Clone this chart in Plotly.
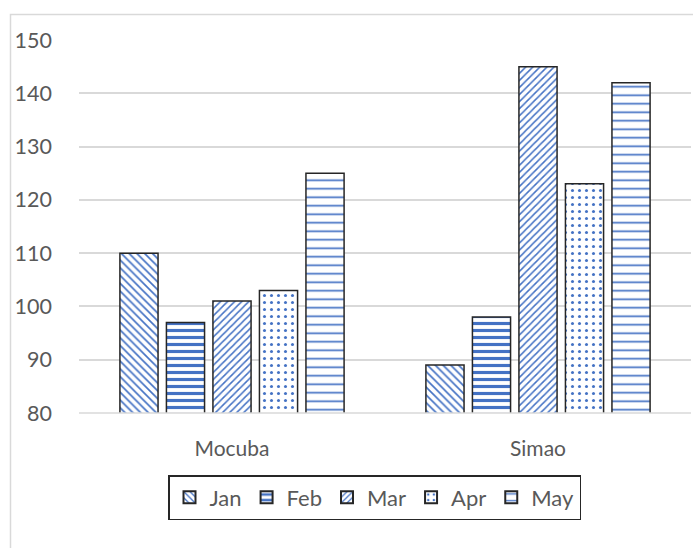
import plotly.graph_objects as go

categories = ["Mocuba", "Simao"]
months = ["Jan", "Feb", "Mar", "Apr", "May"]
values = {
    "Jan": [110, 89],
    "Feb": [97, 98],
    "Mar": [101, 145],
    "Apr": [103, 123],
    "May": [125, 142],
}
y_ticks = [80, 90, 100, 110, 120, 130, 140, 150]

BLUE = "#4472C4"
patterns = {
    "Jan": dict(shape="\\", size=5.5, solidity=0.3),
    "Feb": dict(shape="-", size=7, solidity=0.45),
    "Mar": dict(shape="/", size=5, solidity=0.3),
    "Apr": dict(shape=".", size=7, solidity=0.15),
    "May": dict(shape="-", size=8.5, solidity=0.2),
}

FONT = "Lato"
GRAY = "#595959"

fig = go.Figure()
for m in months:
    p = patterns[m]
    fig.add_trace(go.Bar(
        name=m, x=categories, y=values[m],
        marker=dict(
            color="white",
            line=dict(color="#262626", width=1.5),
            pattern=dict(shape=p["shape"], size=p["size"], solidity=p["solidity"],
                         fgcolor=BLUE, bgcolor="white", fillmode="replace"),
        ),
    ))

W, H = 693, 548
L, R, T, B = 79, 2, 40, 135
pw = W - L - R
ph = H - T - B

fig.update_layout(
    width=W, height=H,
    margin=dict(l=L, r=R, t=T, b=B, pad=0),
    paper_bgcolor="white", plot_bgcolor="white",
    barmode="group", bargap=0.24, bargroupgap=0.18,
    font=dict(family=FONT, color=GRAY),
    showlegend=True,
    legend=dict(
        orientation="h",
        x=(168 - L) / pw, xanchor="left",
        y=(T + ph - 475) / ph, yanchor="top",
        bordercolor="#262626", borderwidth=1.5,
        font=dict(size=22, color=GRAY, family=FONT),
        itemwidth=30, tracegroupgap=0,
        itemsizing="constant",
    ),
    xaxis=dict(
        showgrid=False, showline=False, zeroline=False,
        tickfont=dict(size=21, color=GRAY, family=FONT),
        ticks="", ticklabelstandoff=21,
    ),
    yaxis=dict(
        range=[80, 150], tickvals=y_ticks,
        showgrid=True, gridcolor="#d9d9d9", gridwidth=1.5,
        zeroline=False, showline=False,
        tickfont=dict(size=21.5, color=GRAY, family=FONT),
        ticks="", ticklabelstandoff=26,
    ),
    shapes=[
        dict(type="line", xref="paper", yref="paper",
             x0=0, x1=1, y0=0, y1=0, line=dict(color="#d9d9d9", width=1.5)),
        dict(type="rect", xref="paper", yref="paper",
             x0=(10.5 - L) / pw, x1=(W + 20 - L) / pw,
             y0=(T + ph - (H + 20)) / ph, y1=(T + ph - 14.5) / ph,
             line=dict(color="#d9d9d9", width=1.5), fillcolor="rgba(0,0,0,0)",
             layer="below"),
    ],
)

fig.write_html("out.html")
